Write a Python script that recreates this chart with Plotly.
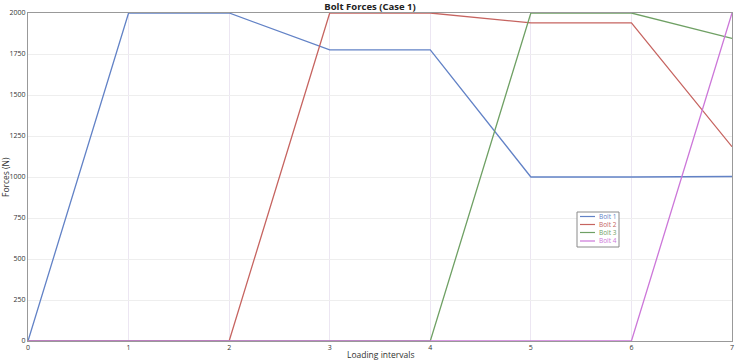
import plotly.graph_objects as go

intervals = [0, 1, 2, 3, 4, 5, 6, 7]
bolt1 = [0, 2000, 2000, 1775, 1775, 1000, 1000, 1003]
bolt2 = [0, 0, 0, 2000, 2000, 1940, 1940, 1185]
bolt3 = [0, 0, 0, 0, 0, 2000, 2000, 1845]
bolt4 = [0, 0, 0, 0, 0, 0, 0, 2000]
y_ticks = [0, 250, 500, 750, 1000, 1250, 1500, 1750, 2000]
names = ["Bolt 1", "Bolt 2", "Bolt 3", "Bolt 4"]
colors = ["#6282c6", "#c66460", "#6fa064", "#cc77d9"]
series = [bolt1, bolt2, bolt3, bolt4]

W, H = 735, 361
ML, MR, MT, MB = 28, 3, 13, 20
PW, PH = W - ML - MR, H - MT - MB

fig = go.Figure()
for n, c, s in zip(names, colors, series):
    fig.add_trace(go.Scatter(x=intervals, y=s, mode="lines", name=n,
                             line=dict(color=c, width=1.3)))

def px_x(p):
    return (p - ML) / PW

def px_y(p):
    return (H - MB - p) / PH

# compact legend drawn in paper coordinates
lx0, lx1, ly0, ly1 = 577, 619, 212, 247
shapes = [dict(type="rect", xref="paper", yref="paper",
               x0=px_x(lx0), x1=px_x(lx1), y0=px_y(ly1), y1=px_y(ly0),
               line=dict(color="#8a8a8a", width=1), fillcolor="white", layer="above")]
annotations = []
rows = [216.5, 224.5, 232.5, 241]
for n, c, ry in zip(names, colors, rows):
    shapes.append(dict(type="line", xref="paper", yref="paper",
                       x0=px_x(580), x1=px_x(595), y0=px_y(ry), y1=px_y(ry),
                       line=dict(color=c, width=1.2), layer="above"))
    annotations.append(dict(text=n, xref="paper", yref="paper",
                            x=px_x(597), y=px_y(ry), xanchor="left", yanchor="middle",
                            showarrow=False, font=dict(size=6.5, color=c)))

annotations.append(dict(text="Loading intervals", xref="paper", yref="paper",
                        x=0.5, y=px_y(354), xanchor="center", yanchor="middle",
                        showarrow=False, font=dict(size=8.5, color="#333")))
annotations.append(dict(text="Forces (N)", xref="paper", yref="paper",
                        x=px_x(5), y=px_y(177), xanchor="center", yanchor="middle",
                        textangle=-90, showarrow=False, font=dict(size=8.5, color="#333")))

fig.update_layout(
    width=W, height=H,
    margin=dict(l=ML, r=MR, t=MT, b=MB),
    paper_bgcolor="white", plot_bgcolor="white",
    font=dict(family="Open Sans", size=7, color="#333"),
    title=dict(text="<b>Bolt Forces (Case 1)</b>", x=370 / W, xanchor="center",
               y=1 - 6.5 / H, yanchor="middle", font=dict(size=9.5, color="#222")),
    xaxis=dict(range=[0, 7], tickvals=intervals, showgrid=True, automargin=False,
               gridcolor="#ece6f2", showline=True, linecolor="#999", mirror=True,
               zeroline=False, ticks="", tickfont=dict(size=7), ticklabelstandoff=0),
    yaxis=dict(range=[0, 2000], tickvals=y_ticks, automargin=False,
               showgrid=True, gridcolor="#eeeeee", showline=True, linecolor="#999",
               mirror=True, zeroline=False, ticks="", tickfont=dict(size=7)),
    showlegend=False,
    shapes=shapes,
    annotations=annotations,
)

fig.write_html("out.html", config={"displayModeBar": False},
               post_script="document.body.style.margin='0';document.body.style.overflow='hidden';")
